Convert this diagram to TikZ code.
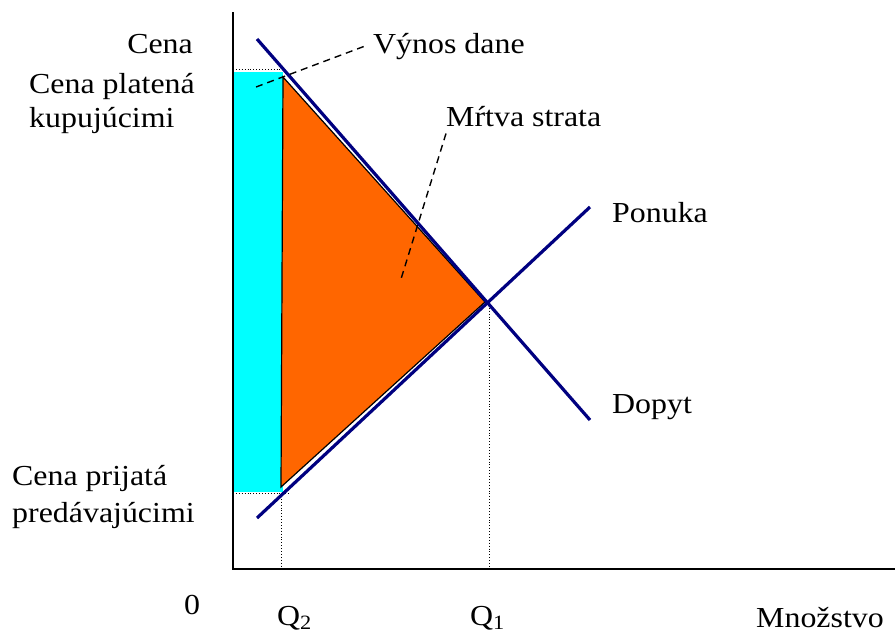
\documentclass[tikz,border=0pt]{standalone}
\usepackage{fontspec}
\setmainfont{Liberation Serif}[FakeStretch=1.1]
\definecolor{navyl}{RGB}{0,0,128}
\definecolor{orng}{RGB}{255,102,0}
\definecolor{cyn}{RGB}{0,255,255}
\begin{document}
\begin{tikzpicture}[x=1pt,y=-1pt,
  lbl/.style={anchor=base west, inner sep=0pt, font=\fontsize{29}{34}\selectfont},
  lblr/.style={anchor=base east, inner sep=0pt, font=\fontsize{29}{34}\selectfont},
  axisline/.style={line width=1.6pt},
  curveline/.style={line width=3.2pt, draw=navyl},
  guide/.style={dotted, line width=0.9pt},
  leader/.style={line width=1.4pt, dash pattern=on 7pt off 5pt}]
\useasboundingbox (0,0) rectangle (895,635);
% key points
\coordinate (O) at (233,569);
\coordinate (Ytop) at (233,12);
\coordinate (Xend) at (895,569);
\coordinate (D1) at (257,39);
\coordinate (D2) at (590,420);
\coordinate (S1) at (257,518);
\coordinate (S2) at (590,207);
\coordinate (E) at (489,302);
\coordinate (Eb) at (489,569);
\coordinate (Pt) at (233,69);
\coordinate (Ptr) at (284,69);
\coordinate (Pb) at (233,493);
\coordinate (Pbr) at (290,493);
\coordinate (Q2top) at (281,493);
\coordinate (Q2bot) at (281,569);
% tax revenue rectangle
\fill[cyn] (233,72) rectangle (283,492);
% deadweight loss triangle
\filldraw[fill=orng, draw=black, line width=1.2pt] (283,77) -- (281,487) -- (485,302) -- cycle;
% dotted guides
\draw[guide] (Pt) -- (Ptr);
\draw[guide] (Pb) -- (Pbr);
\draw[guide] (Q2top) -- (Q2bot);
\draw[guide] (E) -- (Eb);
% demand and supply
\draw[curveline] (D1) -- (D2);
\draw[curveline] (S1) -- (S2);
% axes
\draw[axisline] (Ytop) -- (O) -- (Xend);
% labels
\node[lblr] (cena) at (193,53) {Cena};
\node[lbl] (cp1) at (29,93) {Cena platená};
\node[lbl] (cp2) at (29,127) {kupujúcimi};
\node[lbl] (cr1) at (12,485) {Cena prijatá};
\node[lbl] (cr2) at (12,522) {predávajúcimi};
\node[lbl] (vynos) at (373,53) {Výnos dane};
\node[lbl] (mrtva) at (446,126) {Mŕtva strata};
\node[lbl] (ponuka) at (612,222) {Ponuka};
\node[lbl] (dopyt) at (612,413) {Dopyt};
\node[lbl] (zero) at (184,614) {0};
\node[lbl] (q2) at (277,625) {Q\textsubscript{2}};
\node[lbl] (q1) at (470,625) {Q\textsubscript{1}};
\node[lbl] (mnoz) at (756,627) {Množstvo};
% leaders
\coordinate (vd) at (256,87);
\coordinate (ml) at (401,279);
\draw[leader] (vd) -- ([xshift=-8pt]vynos.west);
\draw[leader] ([yshift=-7pt]mrtva.south west) -- (ml);
\end{tikzpicture}
\end{document}
